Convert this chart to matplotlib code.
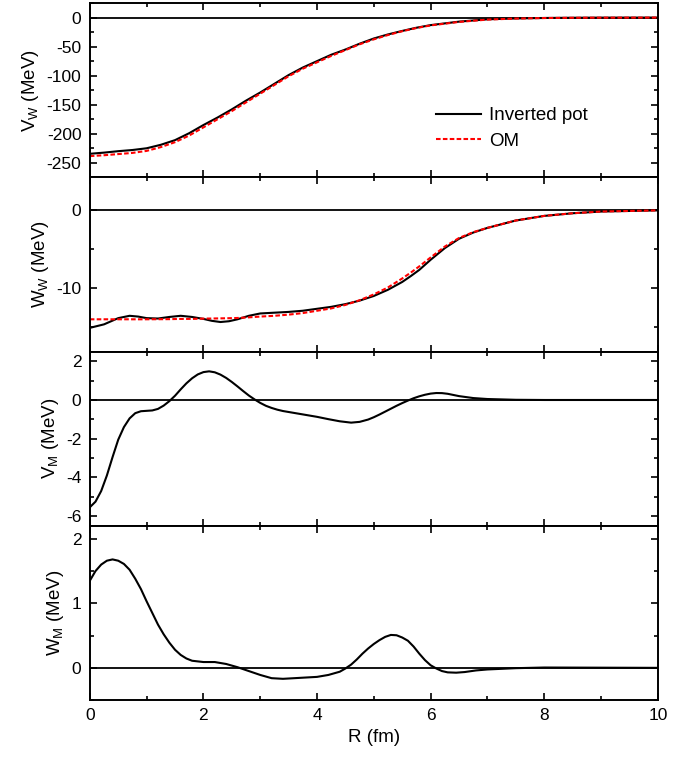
import numpy as np
import matplotlib.pyplot as plt
from matplotlib.ticker import MultipleLocator

plt.rcParams['font.family'] = ['Liberation Sans', 'DejaVu Sans']
plt.rcParams['mathtext.default'] = 'regular'
plt.rcParams['axes.unicode_minus'] = False

# V_W (MeV): inverted potential and optical model
r_vw = [0, 0.25, 0.5, 0.75, 1.0, 1.25, 1.5, 1.75, 2.0, 2.25, 2.5, 2.75, 3.0, 3.25,
        3.5, 3.75, 4.0, 4.25, 4.5, 4.75, 5.0, 5.25, 5.5, 5.75, 6.0, 6.5, 7.0, 7.5,
        8.0, 8.5, 9.0, 10.0]
vw_inv = [-234.5, -232.5, -230, -228, -225, -219, -211, -199, -185, -172, -158, -143,
          -129, -114, -99, -86, -75, -64, -55, -45, -36, -29, -23, -17.5, -13, -7, -3,
          -1.5, -0.7, -0.3, -0.1, 0]
vw_om = [-238.5, -237, -235, -233, -229.5, -223, -214.5, -203, -189, -175, -161, -146,
         -131, -116, -101, -88, -77, -66, -56, -46, -37.5, -30, -23.5, -18, -13.5, -7.5,
         -3.5, -1.7, -0.8, -0.4, -0.2, -0.05]

# W_W (MeV)
r_ww = [0, 0.25, 0.5, 0.7, 0.85, 1.0, 1.2, 1.4, 1.6, 1.8, 2.0, 2.15, 2.3, 2.45, 2.6,
        2.8, 3.0, 3.25, 3.5, 3.75, 4.0, 4.25, 4.5, 4.75, 5.0, 5.25, 5.5, 5.65, 5.8,
        6.0, 6.25, 6.5, 6.75, 7.0, 7.5, 8.0, 8.5, 9.0, 10.0]
ww_inv = [-15.15, -14.7, -13.9, -13.6, -13.7, -13.9, -13.95, -13.75, -13.6, -13.75,
          -14.0, -14.25, -14.4, -14.3, -14.05, -13.6, -13.3, -13.2, -13.1, -12.95,
          -12.7, -12.45, -12.1, -11.65, -11.05, -10.25, -9.25, -8.5, -7.7, -6.4, -4.9,
          -3.7, -2.9, -2.3, -1.35, -0.76, -0.42, -0.2, -0.05]
ww_om = [-14.05, -14.05, -14.05, -14.05, -14.05, -14.05, -14.04, -14.03, -14.0, -14.0,
         -13.96, -13.95, -13.93, -13.91, -13.88, -13.8, -13.7, -13.6, -13.45, -13.25,
         -12.95, -12.65, -12.2, -11.6, -10.85, -9.95, -8.8, -8.05, -7.25, -6.1, -4.7,
         -3.6, -2.85, -2.3, -1.35, -0.76, -0.42, -0.2, -0.05]

# V_M (MeV)
r_vm = [0, 0.1, 0.2, 0.3, 0.4, 0.5, 0.6, 0.7, 0.8, 0.9, 1.0, 1.1, 1.2, 1.3, 1.4, 1.5,
        1.6, 1.7, 1.8, 1.9, 2.0, 2.1, 2.2, 2.3, 2.4, 2.5, 2.6, 2.7, 2.8, 2.9, 3.0,
        3.1, 3.2, 3.3, 3.4, 3.6, 3.8, 4.0, 4.2, 4.4, 4.6, 4.75, 4.9, 5.0, 5.1, 5.2,
        5.3, 5.4, 5.5, 5.6, 5.7, 5.8, 5.9, 6.0, 6.1, 6.2, 6.3, 6.4, 6.5, 6.75, 7.0,
        7.5, 8.0, 10.0]
vm = [-5.54, -5.25, -4.7, -3.9, -2.95, -2.05, -1.4, -0.95, -0.68, -0.58, -0.56, -0.54,
      -0.46, -0.29, -0.06, 0.22, 0.55, 0.86, 1.12, 1.32, 1.44, 1.48, 1.43, 1.31, 1.14,
      0.93, 0.70, 0.46, 0.23, 0.03, -0.15, -0.30, -0.41, -0.50, -0.57, -0.67, -0.77,
      -0.87, -0.99, -1.10, -1.17, -1.13, -1.01, -0.89, -0.75, -0.60, -0.45, -0.30,
      -0.16, -0.03, 0.09, 0.19, 0.27, 0.33, 0.36, 0.355, 0.32, 0.26, 0.20, 0.10, 0.05,
      0.01, 0.0, 0.0]

# W_M (MeV)
r_wm = [0, 0.1, 0.2, 0.3, 0.4, 0.5, 0.6, 0.7, 0.8, 0.9, 1.0, 1.1, 1.2, 1.3, 1.4, 1.5,
        1.6, 1.7, 1.8, 2.0, 2.2, 2.4, 2.6, 2.8, 3.0, 3.2, 3.4, 3.6, 3.8, 4.0, 4.2, 4.4,
        4.5, 4.6, 4.7, 4.8, 4.9, 5.0, 5.1, 5.2, 5.3, 5.4, 5.5, 5.6, 5.7, 5.8, 5.9,
        6.0, 6.1, 6.2, 6.3, 6.45, 6.6, 6.8, 7.0, 7.5, 8.0, 10.0]
wm = [1.35, 1.50, 1.60, 1.66, 1.68, 1.66, 1.61, 1.52, 1.38, 1.22, 1.03, 0.85, 0.67,
      0.52, 0.39, 0.28, 0.20, 0.145, 0.11, 0.09, 0.09, 0.06, 0.01, -0.05, -0.11,
      -0.16, -0.17, -0.16, -0.15, -0.14, -0.11, -0.06, -0.01, 0.05, 0.13, 0.22, 0.30,
      0.37, 0.43, 0.48, 0.51, 0.505, 0.47, 0.42, 0.33, 0.22, 0.12, 0.04, -0.01, -0.05,
      -0.07, -0.075, -0.065, -0.04, -0.025, -0.005, 0.005, 0.0]

fig, axes = plt.subplots(4, 1, sharex=True, figsize=(6.91, 7.61), dpi=100)
fig.subplots_adjust(left=0.130, right=0.952, top=0.996, bottom=0.080, hspace=0)

ylims = [(-275, 25), (-18.2, 4.2), (-6.5, 2.5), (-0.5, 2.2)]
major = [50, 10, 2, 1]
minor = [25, 5, 1, 0.5]
labels = ['V$_{W}$ (MeV)', 'W$_{W}$ (MeV)', 'V$_{M}$ (MeV)', 'W$_{M}$ (MeV)']

for i, ax in enumerate(axes):
    ax.axhline(0, color='black', lw=1.3, zorder=1)
    ax.set_xlim(0, 10)
    ax.set_ylim(*ylims[i])
    ax.xaxis.set_major_locator(MultipleLocator(2))
    ax.xaxis.set_minor_locator(MultipleLocator(1))
    ax.yaxis.set_major_locator(MultipleLocator(major[i]))
    ax.yaxis.set_minor_locator(MultipleLocator(minor[i]))
    ax.tick_params(which='both', direction='in', top=True, right=True,
                   labelsize=12.5, width=1.2, pad=6)
    ax.tick_params(which='major', length=5)
    ax.tick_params(which='minor', length=3)
    for s in ax.spines.values():
        s.set_linewidth(1.4)
    ax.set_ylabel(labels[i], fontsize=13.5)

axes[0].plot(r_vw, vw_inv, color='black', lw=1.5, label='Inverted pot')
axes[0].plot(r_vw, vw_om, color='red', lw=1.5, ls=(0, (2.2, 1.1)), label='OM')
axes[0].legend(loc='upper left', bbox_to_anchor=(0.58, 0.50), frameon=False,
               fontsize=13.5, handlelength=2.4, handletextpad=0.4, labelspacing=0.45)

axes[1].plot(r_ww, ww_inv, color='black', lw=1.5)
axes[1].plot(r_ww, ww_om, color='red', lw=1.5, ls=(0, (2.2, 1.1)))

axes[2].plot(r_vm, vm, color='black', lw=1.5)
axes[3].plot(r_wm, wm, color='black', lw=1.5)

axes[3].set_xlabel('R (fm)', fontsize=13.5)

plt.savefig('out.png')
